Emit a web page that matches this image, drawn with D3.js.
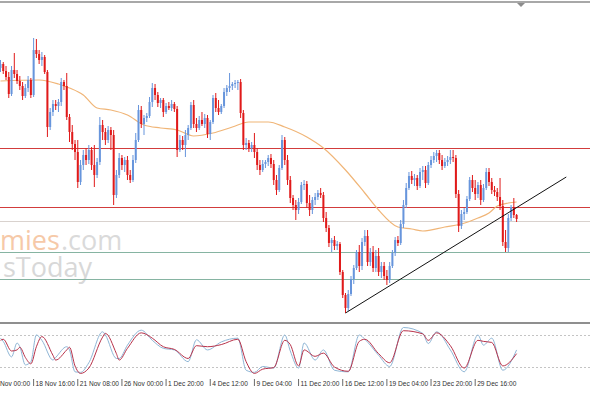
<!DOCTYPE html>
<html>
<head>
<meta charset="utf-8">
<title>H4 chart</title>
<script src="https://cdn.jsdelivr.net/npm/d3@7"></script>
<style>
  body { margin: 0; background: #fff; }
  svg { display: block; }
  .tick-label { font: 6.6px "Liberation Sans", Arial, sans-serif; fill: #303030; }
</style>
</head>
<body>
<svg id="chart" width="590" height="393"></svg>
<script>
// quotes in points (price * 10000), one H4 bar each
var opens = [9232,9236,9229,9223,9206,9230,9226,9219,9214,9204,9212,9220,9205,9250,9246,9240,9243,9228,9173,9188,
  9196,9194,9198,9218,9214,9183,9168,9156,9148,9118,9135,9145,9140,9150,9135,9125,9138,9175,9168,9160,
  9170,9165,9105,9125,9142,9135,9140,9125,9120,9140,9160,9190,9176,9182,9184,9198,9212,9205,9197,9200,
  9188,9194,9192,9196,9191,9150,9160,9155,9165,9172,9195,9176,9172,9180,9176,9182,9166,9178,9202,9192,
  9188,9194,9208,9212,9214,9216,9217,9218,9187,9155,9157,9152,9155,9148,9135,9130,9136,9138,9142,9136,
  9120,9110,9132,9160,9140,9120,9102,9095,9090,9098,9115,9116,9097,9090,9100,9103,9107,9105,9082,9072,
  9057,9060,9054,9056,9028,9005,8992,9006,9021,9032,9048,9034,9058,9064,9038,9048,9032,9044,9028,9034,
  9024,9020,9034,9047,9060,9057,9076,9095,9112,9124,9120,9122,9114,9128,9130,9117,9135,9140,9144,9147,
  9140,9134,9138,9140,9143,9142,9106,9074,9086,9088,9101,9120,9112,9106,9115,9100,9112,9128,9118,9110,
  9108,9103,9094,9058,9052,9082,9093,9085];
var highs = [9240,9238,9234,9228,9234,9247,9230,9224,9218,9216,9224,9222,9262,9261,9250,9248,9245,9230,9192,9200,
  9200,9201,9222,9220,9227,9186,9175,9160,9160,9140,9150,9152,9155,9153,9155,9142,9183,9180,9172,9174,
  9173,9170,9130,9147,9145,9143,9144,9130,9145,9167,9195,9194,9185,9187,9203,9217,9216,9208,9202,9202,
  9197,9198,9200,9198,9194,9165,9164,9170,9175,9198,9200,9182,9184,9188,9186,9185,9180,9205,9207,9200,
  9196,9212,9215,9227,9218,9220,9220,9221,9190,9162,9160,9158,9167,9152,9140,9140,9140,9145,9146,9140,
  9125,9135,9165,9163,9145,9124,9105,9100,9102,9118,9120,9119,9105,9103,9107,9110,9112,9108,9088,9075,
  9062,9064,9059,9058,9030,9007,9010,9024,9035,9050,9055,9062,9070,9070,9052,9054,9050,9052,9038,9038,
  9030,9038,9050,9063,9064,9080,9100,9117,9128,9129,9126,9125,9132,9134,9134,9138,9144,9148,9150,9150,
  9145,9142,9144,9150,9150,9145,9110,9090,9092,9104,9123,9125,9120,9118,9120,9116,9132,9132,9122,9114,
  9112,9122,9100,9070,9086,9095,9102,9086];
var lows = [9228,9226,9220,9202,9204,9222,9216,9210,9200,9202,9208,9202,9203,9242,9236,9234,9226,9163,9170,9184,
  9190,9188,9194,9210,9180,9158,9150,9140,9112,9115,9130,9135,9136,9130,9113,9122,9135,9160,9155,9157,
  9150,9095,9102,9122,9130,9128,9120,9117,9118,9137,9158,9172,9165,9178,9182,9193,9200,9193,9192,9183,
  9186,9190,9189,9188,9143,9148,9150,9143,9160,9170,9172,9168,9170,9174,9172,9162,9160,9176,9188,9185,
  9186,9192,9204,9208,9210,9212,9210,9182,9150,9150,9148,9148,9142,9130,9125,9128,9132,9134,9132,9115,
  9105,9108,9130,9135,9115,9097,9090,9080,9086,9096,9110,9092,9084,9086,9095,9100,9102,9078,9068,9053,
  9048,9050,9050,9025,9002,8987,8989,9004,9016,9030,9028,9030,9054,9034,9034,9028,9028,9024,9022,9020,
  9015,9017,9032,9044,9054,9055,9072,9092,9110,9116,9114,9110,9112,9120,9112,9115,9132,9137,9138,9136,
  9130,9132,9134,9136,9138,9102,9068,9071,9080,9086,9099,9108,9100,9102,9095,9098,9110,9114,9106,9104,
  9099,9090,9054,9048,9048,9079,9082,9078];
var closes = [9236,9229,9223,9206,9230,9226,9219,9214,9204,9212,9220,9205,9250,9246,9240,9243,9228,9173,9188,9196,
  9194,9198,9218,9214,9183,9168,9156,9148,9118,9135,9145,9140,9150,9135,9125,9138,9175,9168,9160,9170,
  9165,9105,9125,9142,9135,9140,9125,9120,9140,9160,9190,9176,9182,9184,9198,9212,9205,9197,9200,9188,
  9194,9192,9196,9191,9150,9160,9155,9165,9172,9195,9176,9172,9180,9176,9182,9166,9178,9202,9192,9188,
  9194,9208,9212,9214,9216,9217,9218,9187,9155,9157,9152,9155,9148,9135,9130,9136,9138,9142,9136,9120,
  9110,9132,9160,9140,9120,9102,9095,9090,9098,9115,9116,9097,9090,9100,9103,9107,9105,9082,9072,9057,
  9060,9054,9056,9028,9005,8992,9006,9021,9032,9048,9034,9058,9064,9038,9048,9032,9044,9028,9034,9024,
  9020,9034,9047,9060,9057,9076,9095,9112,9124,9120,9122,9114,9128,9130,9117,9135,9140,9144,9147,9140,
  9134,9138,9140,9143,9142,9106,9074,9086,9088,9101,9120,9112,9106,9115,9100,9112,9128,9118,9110,9108,
  9103,9094,9058,9052,9082,9093,9085,9081];

// moving average read at a few bars
var maBars = [0,14,21,25,30,35,40,46,52,58,64,70,77,84,90,97,103,111,117,125,132,137,144,149,153,161,167,173,177,180,184,187];
var maVals = [9219,9220,9216,9212,9205,9192,9190,9185,9175,9172,9170,9164,9167,9173,9178,9178,9173,9163,9152,9130,
  9107,9090,9073,9071,9069,9073,9076,9082,9087,9094,9097,9098];

// horizontal levels and trend line
var levelPrices = [9152, 9093, 9079, 9048, 9021];
var levelKinds = ["resistance", "resistance", "pivot", "support", "support"];
var trendBars = [125, 205];
var trendPrices = [8987, 9123];

// stochastic oscillator, main (%K) and signal (%D)
var stochBars = [0,1,4,6,7,9,11,13,15,19,20,24,25,27,29,32,37,38,42,43,46,51,55,59,63,68,71,75,80,86,89,92,95,99,
  103,105,108,110,114,117,121,126,130,132,137,141,146,153,155,158,163,168,173,175,178,182,187];
var stochK = [74,68,39,65,58,24,30,80,70,33,38,58,52,11,10,28,86,80,36,36,61,89,70,55,52,30,71,52,67,74,14,10,21,18,
  80,50,18,65,33,52,14,11,80,72,42,21,94,83,64,86,52,11,80,61,74,14,52];
var stochD = [70,72,50,52,57,38,26,58,77,42,33,52,57,22,8,18,76,83,45,33,55,84,74,58,53,36,60,58,62,72,30,8,16,19,
  70,62,22,52,40,46,20,12,68,72,45,28,88,82,70,84,60,18,70,68,66,22,45];
var stochLevels = [80, 20];

// time axis (first label is cut by the window edge)
var tickBars = [-4, 12, 28, 44, 60, 76, 92, 108, 124, 140, 156, 172];
var tickLabels = ["Nov 00:00", "18 Nov 16:00", "21 Nov 08:00", "26 Nov 00:00", "1 Dec 20:00", "4 Dec 12:00",
  "9 Dec 04:00", "11 Dec 20:00", "16 Dec 12:00", "19 Dec 04:00", "23 Dec 20:00", "29 Dec 16:00"];

var svg = d3.select("#chart");

var x = d3.scaleLinear().domain([0, 187]).range([0.5, 516.6]);
var y = d3.scaleLinear().domain([8982, 9297]).range([318, 3]);
var ys = d3.scaleLinear().domain([0, 100]).range([377.7, 324.3]);
var levelColor = d3.scaleOrdinal()
  .domain(["resistance", "pivot", "support"])
  .range(["#d23c3c", "#d9d2ce", "#86b4a2"]);

svg.append("defs").append("clipPath").attr("id", "mainClip")
  .append("rect").attr("x", 0).attr("y", 3).attr("width", 590).attr("height", 317);

// watermark (left part falls outside the window)
var wm = svg.append("g").style("font-family", "'Open Sans', sans-serif").style("font-size", "27px");
wm.append("text").attr("x", 0).attr("y", 250).attr("fill", "#f6c9a8").text("mies");
wm.append("text").attr("x", 61).attr("y", 250).attr("fill", "#dadada").text(".com");
wm.append("text").attr("x", 3).attr("y", 277).attr("fill", "#d8d8d8").text("sToday");

var main = svg.append("g").attr("clip-path", "url(#mainClip)");

// levels
main.selectAll("line.level").data(levelPrices).enter().append("line")
  .attr("class", "level")
  .attr("x1", 0).attr("x2", 590)
  .attr("y1", function(d){ return Math.round(y(d)) + 0.5; })
  .attr("y2", function(d){ return Math.round(y(d)) + 0.5; })
  .attr("stroke", function(d, i){ return levelColor(levelKinds[i]); })
  .attr("stroke-width", 1);

// moving average
var maLine = d3.line()
  .x(function(d, i){ return x(maBars[i]); })
  .y(function(d){ return y(d); })
  .curve(d3.curveMonotoneX);
main.append("path").datum(maVals)
  .attr("d", maLine)
  .attr("fill", "none").attr("stroke", "#f0b577").attr("stroke-width", 1.2);

// candles
var bars = d3.range(opens.length);
var candle = main.selectAll("g.candle").data(bars).enter().append("g")
  .attr("class", "candle")
  .attr("stroke", function(i){ return closes[i] >= opens[i] ? "#6795dc" : "#e01a1a"; })
  .attr("fill", function(i){ return closes[i] >= opens[i] ? "#6795dc" : "#e01a1a"; });

candle.append("line")
  .attr("x1", function(i){ return x(i); })
  .attr("x2", function(i){ return x(i); })
  .attr("y1", function(i){ return y(highs[i]); })
  .attr("y2", function(i){ return y(lows[i]); })
  .attr("stroke-width", 1);

candle.append("rect")
  .attr("x", function(i){ return x(i) - 1; })
  .attr("width", 2)
  .attr("y", function(i){ return y(Math.max(opens[i], closes[i])); })
  .attr("height", function(i){ return Math.max(1, Math.abs(y(opens[i]) - y(closes[i]))); })
  .attr("stroke", "none");

// trend line
main.append("line")
  .attr("x1", x(trendBars[0])).attr("y1", y(trendPrices[0]))
  .attr("x2", x(trendBars[1])).attr("y2", y(trendPrices[1]))
  .attr("stroke", "#111").attr("stroke-width", 1);

// frame
svg.append("line").attr("x1", 0).attr("x2", 590).attr("y1", 2).attr("y2", 2)
  .attr("stroke", "#a8a8a8").attr("stroke-width", 2);
svg.append("path").attr("d", "M517,3 L525,3 L521,7 Z").attr("fill", "#8c8c8c");
svg.append("line").attr("x1", 0).attr("x2", 590).attr("y1", 323).attr("y2", 323)
  .attr("stroke", "#6a6a6a").attr("stroke-width", 1.5);

// stochastic
svg.selectAll("line.slevel").data(stochLevels).enter().append("line")
  .attr("class", "slevel")
  .attr("x1", 0).attr("x2", 590)
  .attr("y1", function(d){ return Math.round(ys(d)) + 0.5; })
  .attr("y2", function(d){ return Math.round(ys(d)) + 0.5; })
  .attr("stroke", "#c4c4c4").attr("stroke-dasharray", "2,2");

function stochLine(vals) {
  return d3.line()
    .x(function(d, i){ return x(stochBars[i]); })
    .y(function(d){ return ys(d); })
    .curve(d3.curveMonotoneX)(vals);
}
svg.append("path").attr("d", stochLine(stochK))
  .attr("fill", "none").attr("stroke", "#8fb6d6").attr("stroke-width", 1);
svg.append("path").attr("d", stochLine(stochD))
  .attr("fill", "none").attr("stroke", "#b8324a").attr("stroke-width", 1);

// time labels
var tk = svg.selectAll("g.tick").data(tickBars).enter().append("g")
  .attr("class", "tick")
  .attr("transform", function(d){ return "translate(" + x(d) + ",0)"; });
tk.append("line").attr("x1", 0).attr("x2", 0).attr("y1", 379).attr("y2", 386)
  .attr("stroke", "#444").attr("stroke-width", 0.8);
tk.append("text").attr("class", "tick-label")
  .attr("x", function(d){ return Math.max(x(d) + 2, 0) - x(d); })
  .attr("y", 385.5)
  .text(function(d, i){ return tickLabels[i]; });
</script>
</body>
</html>
